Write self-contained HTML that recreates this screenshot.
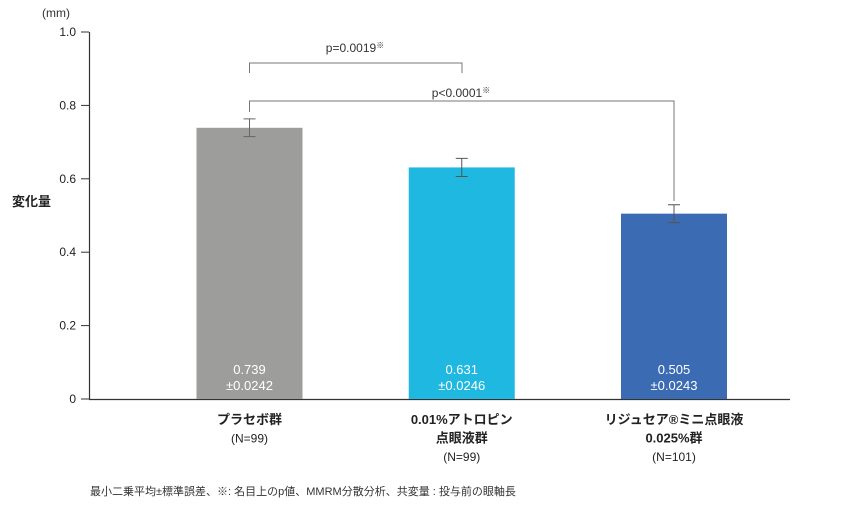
<!DOCTYPE html>
<html><head><meta charset="utf-8"><style>
body{margin:0;background:#fff;}
svg text{font-family:"Liberation Sans","Noto Sans CJK JP",sans-serif;}
</style></head><body>
<svg id="c" width="850" height="510" xmlns="http://www.w3.org/2000/svg">
<text x="42" y="17" font-size="12" fill="#333">(mm)</text>
<text x="12" y="206" font-size="13" font-weight="bold" fill="#222">変化量</text>
<g id="axes"></g><g id="bars"></g><g id="labels"></g>
<g fill="none" stroke="#777" stroke-width="1">
<polyline points="249.5,73 249.5,63 462,63 462,73"/></g>
<text x="355" y="52" font-size="12" fill="#333" text-anchor="middle">p=0.0019<tspan font-size="8" dy="-4">※</tspan></text>
<g fill="none" stroke="#777" stroke-width="1">
<polyline points="249.5,112 249.5,101 674,101 674,201"/></g>
<text x="461" y="97" font-size="12" fill="#333" text-anchor="middle">p&lt;0.0001<tspan font-size="8" dy="-4">※</tspan></text>
<text x="90" y="495" font-size="11" fill="#333">最小二乗平均±標準誤差、※: 名目上のp値、MMRM分散分析、共変量 : 投与前の眼軸長</text>
</svg>
<script>
const categories=["プラセボ群|(N=99)","0.01%アトロピン|点眼液群|(N=99)","リジュセア®ミニ点眼液|0.025%群|(N=101)"];
const values=[0.739,0.631,0.505];
const errors=[0.0242,0.0246,0.0243];
const valueLabels=["0.739","0.631","0.505"];
const errorLabels=["±0.0242","±0.0246","±0.0243"];
const yTicks=[0,0.2,0.4,0.6,0.8,1.0];
const colors=["#9d9e9c","#1fb8e0","#3a6bb3"];
const NS="http://www.w3.org/2000/svg";
const y=v=>399-v*367;
const x=i=>249.5+i*212.25;
function mk(t,a,p){const e=document.createElementNS(NS,t);for(const k in a)e.setAttribute(k,a[k]);p.appendChild(e);return e;}
const ax=document.getElementById('axes');
const yl=mk('line',{x1:89.5,y1:y(1),x2:89.5,y2:399,stroke:'#333','stroke-width':1.2},ax);


const xl=mk('line',{x1:89,y1:399.5,x2:790,y2:399.5,stroke:'#333','stroke-width':1.2},ax);


yTicks.forEach(t=>{
const l=mk('line',{x1:81,x2:89,y1:y(t),y2:y(t),stroke:'#333'},ax);


const tx=mk('text',{x:76,y:y(t)+4,'font-size':12,fill:'#222','text-anchor':'end'},ax);
tx.textContent=t===0?'0':t.toFixed(1);


});
const bg=document.getElementById('bars');
values.forEach((v,i)=>{
const r=mk('rect',{x:x(i)-53,y:y(v),width:106,height:399-y(v),fill:colors[i]},bg);


const e=errors[i];
const eb=mk('path',{d:`M${x(i)},${y(v+e)}V${y(v-e)}M${x(i)-6},${y(v+e)}H${x(i)+6}M${x(i)-6},${y(v-e)}H${x(i)+6}`,stroke:i==0?'#666':'#555',fill:'none','stroke-width':1},bg);


const t1=mk('text',{x:x(i),y:374,'font-size':13,fill:'#fff','text-anchor':'middle'},bg);
t1.textContent=valueLabels[i];


const t2=mk('text',{x:x(i),y:390,'font-size':13,fill:'#fff','text-anchor':'middle'},bg);
t2.textContent=errorLabels[i];


});
const lg=document.getElementById('labels');
categories.forEach((c,i)=>{
const parts=c.split('|');
parts.forEach((p,j)=>{
const isN=p.startsWith('(N');
const t=mk('text',{x:x(i),y:424+j*18.5,'font-size':isN?12:13,'font-weight':isN?'normal':'bold',fill:'#222','text-anchor':'middle'},lg);
t.textContent=p;


});
});
</script>
</body></html>
